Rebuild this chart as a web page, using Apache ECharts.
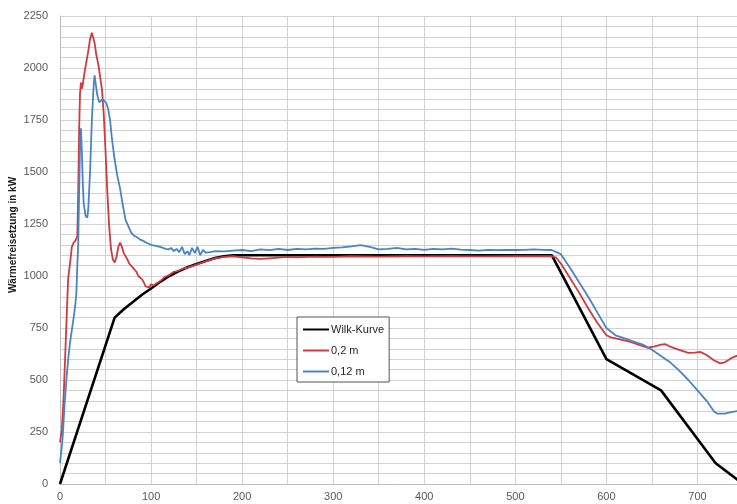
<!DOCTYPE html>
<html>
<head>
<meta charset="utf-8">
<script src="https://cdn.jsdelivr.net/npm/echarts@6/dist/echarts.min.js"></script>
<style>
  html, body { margin: 0; padding: 0; background: #fff; }
  #chart { width: 737px; height: 504px; }
</style>
</head>
<body>
<div id="chart"></div>
<script>
// Zeit in s und Wärmefreisetzung in kW
const wilkTime = [0, 60, 70, 80, 90, 100, 110, 120, 130, 140, 150, 160, 170, 180, 190, 540, 600, 660, 720, 750];
const wilkHrr  = [0, 800, 840, 875, 910, 940, 972, 1000, 1022, 1042, 1058, 1072, 1086, 1095, 1100, 1100, 600, 450, 100, 0];

const time02 = [0, 2, 4, 6, 8, 9, 11, 13, 15, 17, 19, 20, 21, 22, 23, 24, 25, 27, 29, 31, 33, 35, 36, 38, 40, 42, 44, 46, 48, 50,
  52, 54, 56, 58, 60, 62, 64, 66, 68, 70, 72, 74, 76, 78, 80, 82, 84, 86, 88, 90, 92, 94, 96, 98, 100, 103, 106, 110, 115, 120,
  125, 130, 135, 140, 150, 160, 170, 180, 190, 200, 210, 220, 230, 240, 250, 260, 280, 300, 320, 350, 380, 400, 430, 460, 500, 540,
  545, 550, 560, 570, 580, 590, 600, 605, 615, 625, 635, 645, 652, 660, 665, 670, 680, 690, 697, 703, 710, 718, 725, 730, 737, 745];
const hrr02 = [200, 260, 420, 650, 880, 990, 1060, 1140, 1160, 1170, 1190, 1400, 1700, 1880, 1930, 1900, 1920, 1980, 2030, 2080, 2140, 2170, 2165, 2120, 2060, 2020, 1960, 1900, 1780, 1600,
  1400, 1240, 1130, 1080, 1065, 1090, 1140, 1160, 1140, 1110, 1095, 1080, 1060, 1065, 1040, 1030, 1020, 1000, 995, 985, 970, 950, 955, 945, 960, 955, 965, 975, 995, 1005,
  1020, 1025, 1035, 1040, 1055, 1070, 1085, 1092, 1095, 1090, 1085, 1082, 1085, 1088, 1092, 1090, 1093, 1092, 1095, 1093, 1095, 1094, 1095, 1094, 1095, 1095,
  1088, 1060, 990, 920, 845, 775, 715, 705, 695, 685, 670, 655, 660, 670, 672, 660, 645, 630, 632, 635, 620, 595, 580, 585, 605, 620];

const time012 = [0, 2, 3, 5, 7, 9, 11, 13, 15, 17, 18, 19, 20, 21, 22, 23, 24, 25, 26, 28, 30, 31, 33, 35, 37, 38, 39, 41, 43, 45,
  47, 49, 51, 53, 55, 57, 60, 63, 66, 69, 72, 75, 78, 81, 85, 88, 91, 95, 100, 105, 110, 113, 116, 119, 122, 125, 128, 131, 134, 137,
  140, 142, 145, 148, 151, 154, 157, 160, 165, 170, 180, 190, 200, 210, 220, 230, 240, 250, 260, 270, 280, 290, 300, 310, 320, 330,
  340, 350, 360, 370, 380, 390, 400, 410, 420, 430, 440, 450, 460, 470, 480, 490, 500, 510, 520, 530, 540, 545, 550, 560, 570, 580,
  590, 600, 610, 620, 630, 640, 650, 660, 665, 670, 680, 690, 700, 710, 718, 722, 730, 737, 745];
const hrr012 = [100, 180, 230, 380, 500, 600, 680, 740, 800, 870, 920, 1050, 1150, 1400, 1620, 1710, 1600, 1450, 1350, 1290, 1280, 1320, 1500, 1750, 1920, 1965, 1930, 1870, 1835, 1835,
  1850, 1850, 1830, 1800, 1750, 1660, 1560, 1480, 1420, 1340, 1270, 1240, 1210, 1195, 1185, 1175, 1170, 1160, 1150, 1145, 1140, 1135, 1130, 1128, 1135, 1120, 1130, 1115, 1140, 1105,
  1120, 1100, 1135, 1110, 1140, 1100, 1125, 1112, 1115, 1120, 1118, 1122, 1125, 1120, 1128, 1124, 1130, 1125, 1130, 1128, 1132, 1130, 1135, 1138, 1142, 1148,
  1140, 1128, 1130, 1135, 1128, 1130, 1126, 1130, 1128, 1132, 1127, 1125, 1122, 1126, 1124, 1126, 1125, 1126, 1128, 1126, 1125, 1115, 1105, 1040, 970, 900,
  825, 750, 715, 700, 685, 670, 645, 615, 600, 585, 545, 500, 450, 400, 350, 338, 338, 345, 352];

const seriesNames = ['Wilk-Kurve', '0,2 m', '0,12 m'];
const xTicks = [0, 100, 200, 300, 400, 500, 600, 700];
const yTicks = [0, 250, 500, 750, 1000, 1250, 1500, 1750, 2000, 2250];

const pairs = (xs, ys) => xs.map((x, i) => [x, ys[i]]);

const fontFamily = '"Liberation Sans", Arial, sans-serif';
const gridColor = '#d2d2d2';

const chart = echarts.init(document.getElementById('chart'), null, { renderer: 'canvas' });
chart.setOption({
  animation: false,
  backgroundColor: '#ffffff',
  grid: { left: 60, top: 16, right: -6, bottom: 20, containLabel: false, outerBoundsMode: 'none' },
  legend: {
    orient: 'vertical',
    left: 297,
    top: 317,
    data: seriesNames,
    itemWidth: 26,
    itemHeight: 10,
    itemGap: 10,
    padding: [7, 5, 5, 5],
    borderColor: '#555',
    borderWidth: 1,
    backgroundColor: '#fff',
    itemStyle: { opacity: 0 },
    textStyle: { fontFamily, fontSize: 11, color: '#262626', padding: [0, 0, 0, -3] }
  },
  xAxis: {
    type: 'value',
    min: 0,
    max: 750,
    interval: 100,
    axisLine: { show: true, lineStyle: { color: '#bfbfbf' } },
    axisTick: { show: false },
    axisLabel: {
      fontFamily, fontSize: 11, color: '#595959', margin: 7,
      showMaxLabel: false,
      formatter: v => (xTicks.includes(v) ? String(v) : '')
    },
    splitLine: { show: true, lineStyle: { color: gridColor, width: 1 } },
    minorTick: { show: false, splitNumber: 2 },
    minorSplitLine: { show: true, lineStyle: { color: gridColor, width: 1 } }
  },
  yAxis: {
    type: 'value',
    min: 0,
    max: 2250,
    interval: 250,
    name: 'Wärmefreisetzung in kW',
    nameLocation: 'middle',
    nameGap: 42,
    nameMoveOverlap: false,
    nameTextStyle: { fontFamily, fontSize: 10, fontWeight: 'bold', color: '#1a1a1a', padding: [0, 0, 0, 30] },
    axisLine: { show: true, lineStyle: { color: '#bfbfbf' } },
    axisTick: { show: false },
    axisLabel: {
      fontFamily, fontSize: 11, color: '#595959', margin: 12,
      formatter: v => (yTicks.includes(v) ? String(v) : '')
    },
    splitLine: { show: true, lineStyle: { color: gridColor, width: 1 } },
    minorTick: { show: false, splitNumber: 5 },
    minorSplitLine: { show: true, lineStyle: { color: gridColor, width: 1 } }
  },
  series: [
    {
      name: seriesNames[0],
      type: 'line',
      data: pairs(wilkTime, wilkHrr),
      symbol: 'none',
      lineStyle: { color: '#000000', width: 2.6 },
      itemStyle: { color: '#000000' },
      z: 3
    },
    {
      name: seriesNames[1],
      type: 'line',
      data: pairs(time02, hrr02),
      symbol: 'none',
      lineStyle: { color: '#cf3a3f', width: 1.8 },
      itemStyle: { color: '#cf3a3f' },
      z: 4
    },
    {
      name: seriesNames[2],
      type: 'line',
      data: pairs(time012, hrr012),
      symbol: 'none',
      lineStyle: { color: '#4a84c4', width: 1.8 },
      itemStyle: { color: '#4a84c4' },
      z: 5
    }
  ]
});
</script>
</body>
</html>
